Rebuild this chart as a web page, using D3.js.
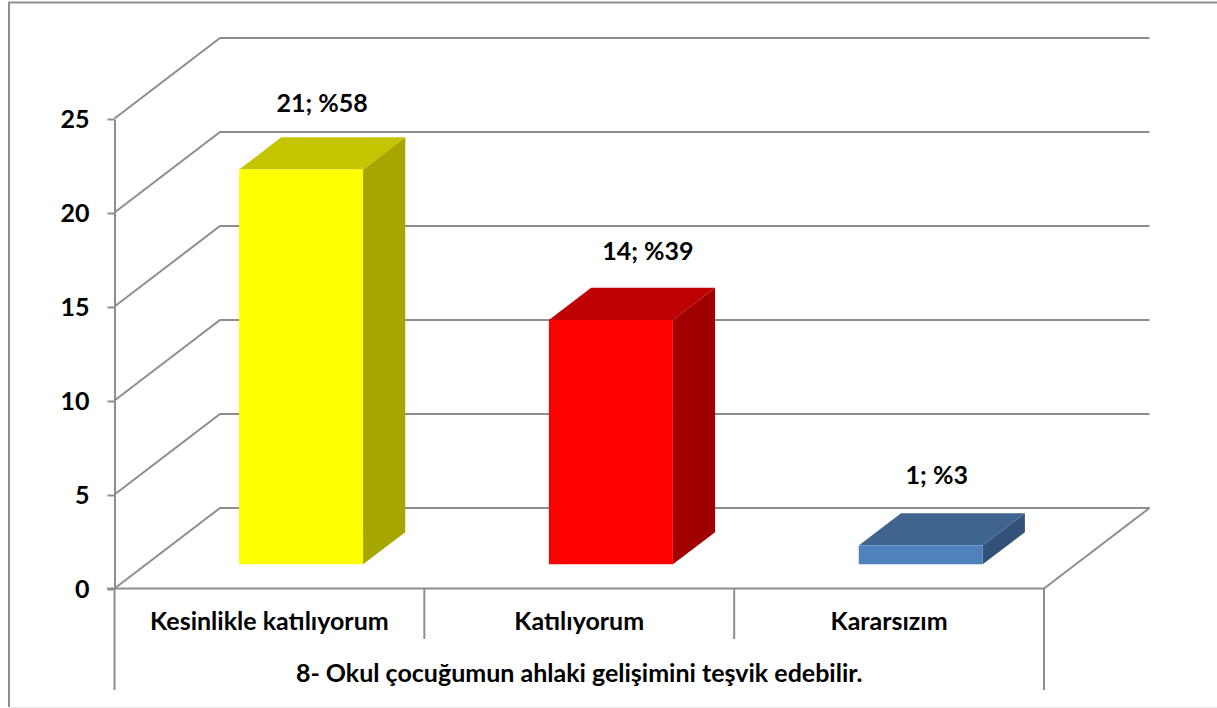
<!DOCTYPE html>
<html>
<head>
<meta charset="utf-8">
<style>
  html, body { margin: 0; padding: 0; background: #fff; overflow: hidden; }
  text { font-family: Lato, "Open Sans", sans-serif; font-weight: 700; fill: #000; }
</style>
<script src="https://cdn.jsdelivr.net/npm/d3@7"></script>
</head>
<body>
<div id="chart"></div>
<script>
var categories = ["Kesinlikle katılıyorum", "Katılıyorum", "Kararsızım"];
var barValues = [21, 13, 1]; // middle bar is drawn at 13 in the picture even though its label says 14
var dataLabels = ["21; %58", "14; %39", "1; %3"];
var frontColors = ["#ffff00", "#ff0000", "#4f81bd"];
var topColors = ["#c4c400", "#bf0000", "#3e648f"];
var sideColors = ["#a6a600", "#a00000", "#325279"];
var yTicks = [0, 5, 10, 15, 20, 25];
var groupLabel = "8- Okul çocuğumun ahlaki gelişimini teşvik edebilir.";

var w = 1217, h = 708;
var gridColor = "#8e8e8e";
var fontSize = 25;
var labelShiftX = [21, 37, 16];
var labelRaise = [25, 28, 29];

var svg = d3.select("#chart").append("svg")
    .attr("width", w)
    .attr("height", h);

var xScale = d3.scaleBand().domain(categories).range([114.5, 1044]);
var yScale = d3.scaleLinear().domain([0, 25]).range([588.5, 118.5]);
// oblique depth, 0 = front of the floor, 1 = back wall
var depthX = d3.scaleLinear().domain([0, 1]).range([0, 105.5]);
var depthY = d3.scaleLinear().domain([0, 1]).range([0, -80.5]);
var barStart = 0.3, barEnd = 0.7, barShare = 0.4;

function pt(x, y, d) {
    return (x + depthX(d)) + "," + (y + depthY(d));
}

// chart border, only left and top show up
svg.append("path")
    .attr("d", "M9,707V2.5H1217")
    .attr("fill", "none")
    .attr("stroke", gridColor)
    .attr("stroke-width", 2);
svg.append("line")
    .attr("x1", 9).attr("x2", 1217).attr("y1", 707.5).attr("y2", 707.5)
    .attr("stroke", "#e6e6e6");

// gridlines, side wall then back wall
var right = xScale.range()[1];
svg.append("g").selectAll("polyline")
    .data(yTicks)
    .enter()
    .append("polyline")
    .attr("points", function (d) {
        var y = yScale(d);
        return pt(114.5, y, 0) + " " + pt(114.5, y, 1) + " " + pt(right, y, 1);
    })
    .attr("fill", "none")
    .attr("stroke", gridColor)
    .attr("stroke-width", 2);

// floor right edge
svg.append("polyline")
    .attr("points", pt(right, yScale(0), 0) + " " + pt(right, yScale(0), 1))
    .attr("fill", "none")
    .attr("stroke", gridColor)
    .attr("stroke-width", 2);

// y axis
var yAxis = d3.axisLeft(yScale).tickValues(yTicks).tickSize(7).tickSizeOuter(0).tickPadding(18);
var yG = svg.append("g").attr("transform", "translate(114.5,0.5)").call(yAxis);
yG.selectAll("line, path").attr("stroke", gridColor).attr("stroke-width", 2);
yG.selectAll("text").attr("font-size", fontSize).attr("fill", "#000")
    .style("font-family", "Lato, sans-serif").style("font-weight", 700);

// x axis, front edge and the two level category dividers
svg.append("line")
    .attr("x1", 107).attr("x2", right)
    .attr("y1", yScale(0)).attr("y2", yScale(0))
    .attr("stroke", gridColor).attr("stroke-width", 2);

var edges = categories.map(function (c) { return xScale(c); }).concat([right]);
svg.append("g").selectAll("line")
    .data(edges)
    .enter()
    .append("line")
    .attr("x1", function (d) { return d; })
    .attr("x2", function (d) { return d; })
    .attr("y1", yScale(0))
    .attr("y2", function (d, i) { return (i === 0 || i === edges.length - 1) ? 690 : 639; })
    .attr("stroke", gridColor)
    .attr("stroke-width", 2);

svg.append("g").selectAll("text")
    .data(categories)
    .enter()
    .append("text")
    .attr("x", function (d) { return xScale(d) + xScale.bandwidth() / 2; })
    .attr("y", 630)
    .attr("text-anchor", "middle")
    .attr("font-size", fontSize)
    .text(function (d) { return d; });

svg.append("text")
    .attr("x", (114.5 + right) / 2)
    .attr("y", 682)
    .attr("text-anchor", "middle")
    .attr("font-size", fontSize)
    .text(groupLabel);

// bars, each one three faces
var bars = svg.append("g").selectAll("g")
    .data(barValues)
    .enter()
    .append("g");

function barLeft(i) {
    return xScale(categories[i]) + xScale.bandwidth() * (1 - barShare) / 2;
}

function topY(d) {
    return yScale(d);
}

bars.append("polygon") // side
    .attr("points", function (d, i) {
        var x = barLeft(i) + xScale.bandwidth() * barShare;
        return [pt(x, yScale(0), barStart), pt(x, yScale(0), barEnd), pt(x, topY(d), barEnd), pt(x, topY(d), barStart)].join(" ");
    })
    .attr("fill", function (d, i) { return sideColors[i]; });

bars.append("polygon") // top
    .attr("points", function (d, i) {
        var x0 = barLeft(i), x1 = x0 + xScale.bandwidth() * barShare;
        return [pt(x0, topY(d), barStart), pt(x0, topY(d), barEnd), pt(x1, topY(d), barEnd), pt(x1, topY(d), barStart)].join(" ");
    })
    .attr("fill", function (d, i) { return topColors[i]; });

bars.append("polygon") // front
    .attr("points", function (d, i) {
        var x0 = barLeft(i), x1 = x0 + xScale.bandwidth() * barShare;
        return [pt(x0, yScale(0), barStart), pt(x1, yScale(0), barStart), pt(x1, topY(d), barStart), pt(x0, topY(d), barStart)].join(" ");
    })
    .attr("fill", function (d, i) { return frontColors[i]; });

bars.append("text")
    .attr("x", function (d, i) {
        return barLeft(i) + xScale.bandwidth() * barShare / 2 + depthX(barStart) + labelShiftX[i];
    })
    .attr("y", function (d, i) { return topY(d) + depthY(barEnd) - labelRaise[i]; })
    .attr("text-anchor", "middle")
    .attr("font-size", fontSize)
    .text(function (d, i) { return dataLabels[i]; });
</script>
</body>
</html>
